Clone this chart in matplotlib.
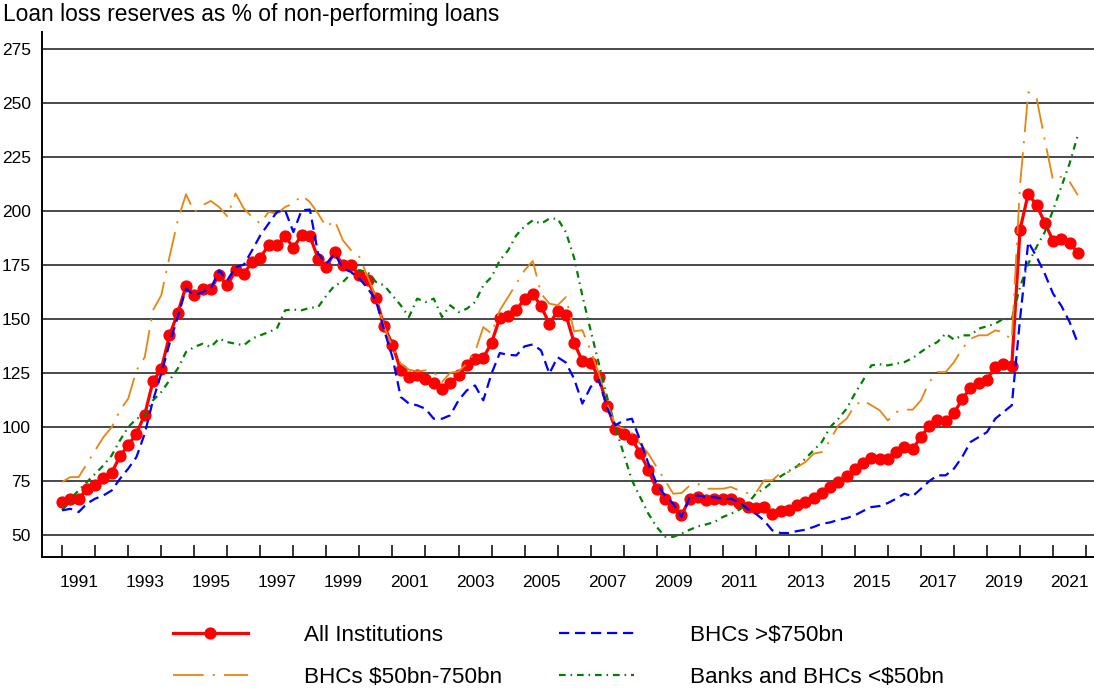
import numpy as np
import pandas as pd
import matplotlib
matplotlib.use("Agg")
import matplotlib.pyplot as plt
from matplotlib import font_manager

# Quarterly observations, 1991Q1 - 2021Q4
quarters = pd.period_range("1991Q1", "2021Q4", freq="Q")

all_institutions = [
    65.4, 66.7, 66.7, 71.6, 73.1, 76.7, 79.0, 86.7, 91.7, 97.1,
    105.9, 121.3, 126.9, 142.6, 152.9, 165.4, 161.1, 163.9, 164.2, 170.4,
    165.7, 172.7, 171.2, 176.5, 178.6, 184.3, 184.3, 188.4, 183.2, 188.9,
    188.6, 178.1, 174.2, 181.2, 175.0, 175.0, 170.4, 168.1, 159.9, 146.8,
    138.3, 126.4, 123.3, 124.4, 122.2, 120.7, 117.6, 120.7, 124.1, 128.7,
    131.8, 132.1, 139.2, 150.6, 151.4, 154.2, 159.6, 161.9, 156.0, 148.0,
    153.7, 152.2, 139.2, 130.6, 129.8, 123.3, 109.9, 99.4, 97.1, 94.4,
    88.3, 80.1, 71.6, 67.0, 63.1, 59.3, 67.0, 67.7, 66.5, 67.0,
    67.0, 67.0, 65.1, 63.1, 62.8, 63.1, 59.7, 61.1, 61.9, 63.9,
    65.4, 67.4, 69.6, 72.4, 74.7, 77.3, 80.9, 83.5, 85.8, 85.2,
    85.5, 88.6, 90.9, 90.1, 95.5, 100.6, 103.5, 102.9, 106.6, 113.0,
    118.4, 120.5, 122.1, 127.9, 129.5, 128.2, 191.5, 208.2, 202.8, 194.8,
    186.3, 187.0, 185.5, 180.9,
]

bhc_over_750 = [
    61.6, 62.3, 60.8, 64.7, 67.0, 68.5, 70.8, 76.2, 80.9, 86.3,
    97.1, 112.5, 124.9, 138.7, 151.1, 164.2, 161.1, 162.6, 164.2, 172.7,
    168.1, 174.2, 175.3, 181.9, 188.9, 194.3, 199.7, 200.5, 190.4, 200.5,
    200.8, 180.4, 175.8, 180.4, 173.5, 171.9, 168.8, 164.4, 158.8, 144.9,
    132.5, 114.1, 111.0, 110.2, 108.6, 104.0, 104.0, 105.6, 112.5, 117.1,
    119.4, 112.5, 124.9, 134.4, 133.6, 133.3, 137.5, 138.4, 135.6, 124.9,
    132.5, 130.0, 122.5, 111.0, 118.7, 122.0, 109.0, 101.0, 103.2, 104.0,
    94.0, 83.2, 73.9, 68.5, 64.7, 58.5, 67.7, 68.5, 67.7, 67.7,
    66.9, 66.9, 65.4, 62.3, 60.0, 56.9, 52.3, 51.1, 51.1, 52.0,
    52.6, 53.9, 55.4, 56.0, 57.2, 58.0, 59.3, 61.3, 63.1, 63.6,
    65.0, 67.0, 69.3, 68.1, 71.6, 75.1, 77.8, 77.8, 80.9, 86.3,
    93.2, 95.5, 97.8, 104.0, 107.1, 110.2, 150.0, 185.8, 179.0, 171.1,
    161.9, 156.3, 148.8, 139.0,
]

bhc_50_750 = [
    74.7, 77.0, 77.0, 83.2, 89.4, 95.5, 100.1, 107.9, 113.3, 126.4,
    132.5, 154.2, 161.1, 178.9, 195.8, 207.9, 199.7, 202.8, 204.8, 202.0,
    197.7, 208.2, 201.3, 197.4, 194.3, 199.7, 198.9, 202.0, 203.6, 207.4,
    204.3, 198.9, 192.7, 195.8, 186.6, 181.9, 178.9, 169.6, 160.3, 146.4,
    137.2, 129.5, 126.7, 125.9, 126.4, 125.6, 121.0, 125.3, 125.9, 129.5,
    134.9, 146.4, 143.4, 154.2, 160.3, 166.5, 172.7, 177.0, 161.9, 157.3,
    156.5, 160.3, 144.5, 145.0, 135.5, 124.9, 111.0, 100.9, 99.4, 97.4,
    92.4, 87.8, 81.6, 75.5, 69.3, 69.6, 73.1, 73.9, 71.6, 71.6,
    71.6, 72.4, 70.8, 69.6, 69.6, 75.5, 75.5, 78.9, 79.3, 81.6,
    83.9, 87.8, 88.6, 94.0, 100.9, 104.0, 110.2, 112.5, 110.2, 107.9,
    103.2, 107.1, 108.2, 108.2, 112.5, 121.0, 125.6, 125.6, 130.2, 136.4,
    141.0, 142.6, 142.6, 144.9, 144.1, 140.3, 212.0, 255.2, 252.5, 233.0,
    214.4, 216.0, 213.7, 207.5,
]

banks_under_50 = [
    61.6, 67.0, 70.8, 74.7, 78.5, 82.4, 87.0, 94.0, 100.1, 104.0,
    105.6, 112.5, 116.3, 121.8, 127.2, 134.9, 137.2, 138.7, 137.2, 141.1,
    139.5, 138.7, 138.0, 141.1, 142.6, 144.1, 145.7, 154.2, 154.5, 154.2,
    155.3, 155.7, 161.0, 165.7, 167.3, 171.1, 172.7, 171.9, 167.3, 165.7,
    161.1, 156.5, 151.1, 159.6, 158.0, 159.6, 151.1, 156.5, 153.4, 154.9,
    158.0, 165.7, 169.6, 177.3, 181.9, 188.9, 193.1, 195.8, 194.3, 196.6,
    196.6, 190.4, 178.5, 161.0, 144.9, 129.5, 114.0, 100.1, 87.8, 75.5,
    67.7, 60.0, 53.9, 49.5, 49.3, 50.8, 52.6, 54.2, 55.1, 56.2,
    58.5, 60.0, 61.9, 64.7, 69.3, 71.6, 74.7, 77.3, 79.8, 81.9,
    85.5, 89.4, 93.2, 100.1, 104.0, 108.6, 115.6, 121.8, 128.7, 129.2,
    128.7, 129.5, 130.2, 132.1, 134.9, 137.5, 139.5, 143.4, 140.6, 142.6,
    142.6, 145.7, 146.8, 148.0, 150.3, 150.0, 165.0, 175.8, 183.5, 190.4,
    200.5, 211.3, 222.1, 235.2,
]

series_labels = ["All Institutions", "BHCs $50bn-750bn",
                 "BHCs >$750bn", "Banks and BHCs <$50bn"]
y_ticks = [50, 75, 100, 125, 150, 175, 200, 225, 250, 275]
year_labels = list(range(1991, 2022, 2))
title = "Loan loss reserves as % of non-performing loans"

# ---------------------------------------------------------------- fonts
available = {f.name for f in font_manager.fontManager.ttflist}
base_font = "Liberation Sans" if "Liberation Sans" in available else "DejaVu Sans"
plt.rcParams["font.family"] = [base_font, "DejaVu Sans"]

# ---------------------------------------------------------------- figure
x = np.array([p.year + (p.quarter - 1) / 4 for p in quarters])

fig = plt.figure(figsize=(10.94, 7.0), dpi=100)
ax = fig.add_axes([42 / 1094, 1 - 557 / 700, 1 - 42 / 1094, (557 - 32) / 700])

red, orange, blue, green = "#ff0000", "#e8850f", "#0000ff", "#008000"

h_all, = ax.plot(x, all_institutions, color=red, lw=2.3, marker="o",
                 ms=7.8, mec=red, mfc=red, zorder=3)
h_small, = ax.plot(x, banks_under_50, color=green, lw=1.6,
                   dashes=(3.0, 2.2, 0.7, 2.2), zorder=4)
h_mid, = ax.plot(x, bhc_50_750, color=orange, lw=1.3,
                 dashes=(17, 5, 1.2, 5), zorder=4)
h_big, = ax.plot(x, bhc_over_750, color=blue, lw=1.6,
                 dashes=(4.6, 2.6), zorder=5)

# axes styling
ax.set_xlim(1990.39, 2022.24)
ax.set_ylim(40, 283)
ax.set_yticks(y_ticks)
ax.set_yticklabels([str(v) for v in y_ticks])
ax.yaxis.grid(True, color="#3a3a3a", lw=1.3)
ax.set_axisbelow(True)
ax.tick_params(axis="y", length=0, pad=8, labelsize=12.5)

ax.set_xticks(range(1991, 2023))
ax.set_xticklabels([])
ax.set_xticks([yr + 0.5 for yr in year_labels], minor=True)
ax.set_xticklabels([str(yr) for yr in year_labels], minor=True)
ax.tick_params(axis="x", which="major", direction="in", length=9, width=1.1)
ax.tick_params(axis="x", which="minor", length=0, pad=13, labelsize=12.5)

for side in ("top", "right"):
    ax.spines[side].set_visible(False)
for side in ("left", "bottom"):
    ax.spines[side].set_color("black")
    ax.spines[side].set_linewidth(1.4)

fig.text(3 / 1094, 1 - 14 / 700, title, fontsize=16.4, ha="left", va="center")

fig.legend([h_all, h_mid, h_big, h_small], series_labels,
           loc="center", bbox_to_anchor=(558.5 / 1094, 1 - 656.5 / 700), ncol=2,
           frameon=False, handlelength=3.3, handletextpad=2.5,
           columnspacing=2.55, labelspacing=0.95, numpoints=1,
           fontsize=16.2)

fig.savefig("out.png", dpi=100)
